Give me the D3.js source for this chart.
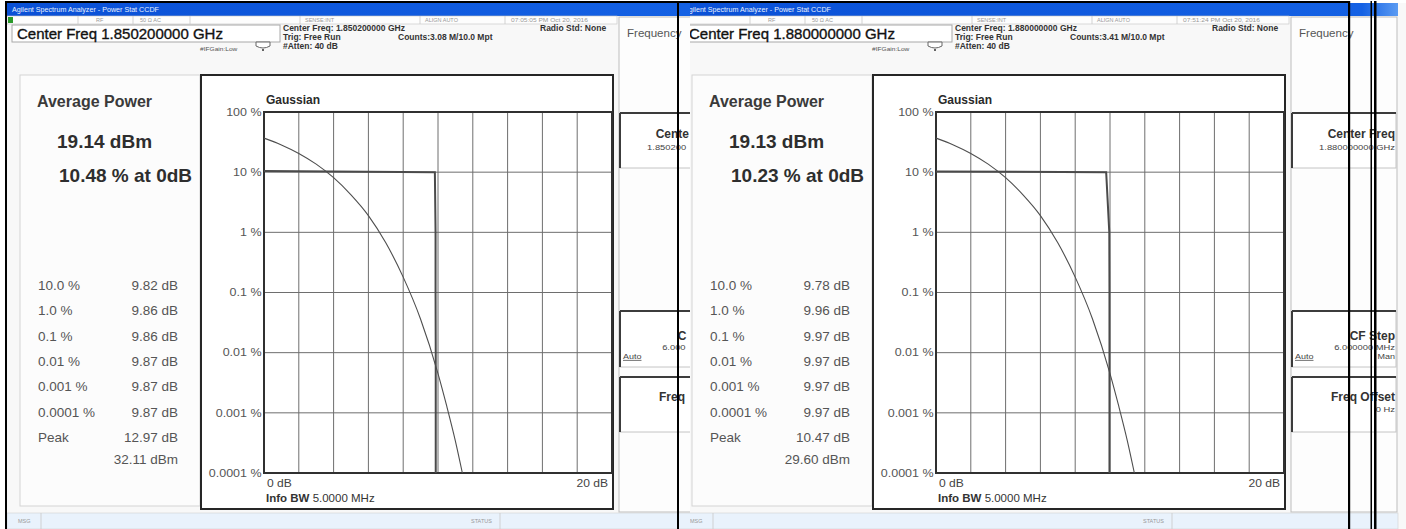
<!DOCTYPE html>
<html>
<head>
<meta charset="utf-8">
<script src="https://cdn.jsdelivr.net/npm/d3@7"></script>
<style>
  body { margin: 0; background: #ffffff; }
  text { font-family: "Liberation Sans", Arial, sans-serif; }
</style>
</head>
<body>
<div id="chart"></div>
<script>
var centerFreqs = ["1.850200000 GHz", "1.880000000 GHz"];
var avgPower = ["19.14 dBm", "19.13 dBm"];
var pctAt0dB = [10.48, 10.23];
var ccdfLevels = [10, 1, 0.1, 0.01, 0.001, 0.0001];
var ccdfLabels = ["10.0 %", "1.0 %", "0.1 %", "0.01 %", "0.001 %", "0.0001 %"];
var ccdfDbLeft = [9.82, 9.86, 9.86, 9.87, 9.87, 9.87];
var ccdfDbRight = [9.78, 9.96, 9.97, 9.97, 9.97, 9.97];
var peakDb = ["12.97 dB", "10.47 dB"];
var peakDbm = ["32.11 dBm", "29.60 dBm"];
var counts = ["3.08 M/10.0 Mpt", "3.41 M/10.0 Mpt"];
var timestamps = ["07:05:05 PM Oct 20, 2016", "07:51:24 PM Oct 20, 2016"];

// axes
var yTicks = [100, 10, 1, 0.1, 0.01, 0.001, 0.0001];
var xTicks = [0, 2, 4, 6, 8, 10, 12, 14, 16, 18, 20];

// gaussian reference trace (dB , %)
var gaussDb = [0, 1, 2, 3, 4, 5, 6, 7, 8, 9, 10, 10.5, 11, 11.4];
var gaussPct = [36.8, 28.4, 20.5, 13.6, 8.1, 4.2, 1.9, 0.67, 0.18, 0.036, 0.0045, 0.0013, 0.00034, 0.0001];

var W = 1406, H = 529, shift = 672, seam = 690;

var svg = d3.select("#chart").append("svg")
  .attr("width", W).attr("height", H);

var defs = svg.append("defs");
var grad = defs.append("linearGradient").attr("id", "bluebar")
  .attr("x1", 0).attr("x2", 1).attr("y1", 0).attr("y2", 0);
grad.append("stop").attr("offset", "0%").attr("stop-color", "#0a50d6");
grad.append("stop").attr("offset", "95%").attr("stop-color", "#1461e4");
grad.append("stop").attr("offset", "100%").attr("stop-color", "#5b9bf2");
defs.append("clipPath").attr("id", "clipLeft")
  .append("rect").attr("x", 0).attr("y", 0).attr("width", seam).attr("height", H);
defs.append("clipPath").attr("id", "clipRight")
  .append("rect").attr("x", seam).attr("y", 0).attr("width", W - seam).attr("height", H);

// right edge (in screen coords) beyond which the current screen is hidden
var cutX = Infinity;

// small helpers
function txt(g, x, y, s, o) {
  o = o || {};
  var sx = o.sx || 1;
  var t = g.append("text")
    .attr("transform", "translate(" + x + "," + y + ") scale(" + sx + ",1)")
    .attr("font-size", (o.size || 10) + "px")
    .attr("font-weight", o.bold ? "bold" : "normal")
    .attr("text-anchor", o.anchor || "start")
    .attr("fill", o.fill || "#333")
    .text(s);
  if (o.underline) t.attr("text-decoration", "underline");
  // text running under the other screenshot: keep only the part that shows
  var bb = t.node().getBBox();
  var left = x + bb.x * sx, right = left + bb.width * sx;
  if (right > cutX) {
    if (left >= cutX) { t.remove(); return t; }
    t.attr("text-anchor", "start").attr("transform", "translate(" + left + "," + y + ") scale(" + sx + ",1)");
    var str = s;
    while (str.length > 1 && left + t.node().getComputedTextLength() * sx > cutX) {
      str = str.slice(0, -1);
      t.text(str);
    }
  }
  return t;
}
function ln(g, x1, y1, x2, y2, c, w) {
  return g.append("line").attr("x1", x1).attr("y1", y1).attr("x2", x2).attr("y2", y2)
    .attr("stroke", c).attr("stroke-width", w || 1);
}

function drawScreen(i, dx, ccdfDb, clip, cut) {
  cutX = cut;
  var outer = svg.append("g").attr("clip-path", "url(#" + clip + ")");
  var g = outer.append("g").attr("transform", "translate(" + dx + ",0)");

  // window body + title bar
  g.append("rect").attr("x", 7).attr("y", 3).attr("width", 727).attr("height", 526).attr("fill", "#f8f8f8");
  g.append("rect").attr("x", 7).attr("y", 3).attr("width", 719).attr("height", 13).attr("fill", "url(#bluebar)");
  txt(g, 12, 12, "Agilent Spectrum Analyzer - Power Stat CCDF", {size: 6.5, fill: "#e8f0ff", sx: 1.1});

  // status row
  g.append("rect").attr("x", 7).attr("y", 16).attr("width", 610).attr("height", 8)
    .attr("fill", "#fdfdfd").attr("stroke", "#c4c4c4").attr("stroke-width", 0.6);
  g.append("rect").attr("x", 8).attr("y", 17).attr("width", 5).attr("height", 6).attr("fill", "#2a9a2a");
  [78, 133, 190, 300, 420, 505].forEach(function (sx) { ln(g, sx, 16, sx, 24, "#c8c8c8", 0.8); });
  txt(g, 96, 22, "RF", {size: 5.5, fill: "#999"});
  txt(g, 140, 22, "50 \u03A9  AC", {size: 5.5, fill: "#999"});
  txt(g, 305, 22, "SENSE:INT", {size: 5.5, fill: "#999"});
  txt(g, 425, 22, "ALIGN AUTO", {size: 5.5, fill: "#999"});
  txt(g, 511, 22, timestamps[i], {size: 5.5, fill: "#999", sx: 1.2});

  // active function box
  g.append("rect").attr("x", 12).attr("y", 25).attr("width", 268).attr("height", 17)
    .attr("fill", "#ffffff").attr("stroke", "#a8a8a8");
  txt(g, 17, 39, "Center Freq " + centerFreqs[i], {size: 15, fill: "#111"})
    .attr("stroke", "#111").attr("stroke-width", 0.35);
  g.append("path").attr("d", "M256,42 h14 v4 q-7,4 -14,0 z").attr("fill", "#fff").attr("stroke", "#666");
  g.append("circle").attr("cx", 263).attr("cy", 50).attr("r", 1).attr("fill", "#333");
  txt(g, 200, 51, "#IFGain:Low", {size: 5.5, fill: "#555", sx: 1.2});

  // measurement setup block
  txt(g, 283, 31, "Center Freq: " + centerFreqs[i], {size: 8.5, bold: true, fill: "#333"});
  txt(g, 283, 40, "Trig: Free Run", {size: 8.5, bold: true, fill: "#333"});
  txt(g, 283, 49, "#Atten: 40 dB", {size: 8.5, bold: true, fill: "#333"});
  txt(g, 398, 40, "Counts:" + counts[i], {size: 8.5, bold: true, fill: "#333"});
  txt(g, 540, 31, "Radio Std: None", {size: 8.5, bold: true, fill: "#333"});

  // results panel
  g.append("rect").attr("x", 20).attr("y", 75).attr("width", 180).attr("height", 431)
    .attr("fill", "#fcfcfc").attr("stroke", "#d4d4d4");
  txt(g, 37, 107, "Average Power", {size: 16, bold: true, fill: "#3a3a3a"});
  txt(g, 57, 148, avgPower[i], {size: 19, bold: true, fill: "#2e2e2e"});
  txt(g, 59, 182, pctAt0dB[i].toFixed(2) + " % at 0dB", {size: 19, bold: true, fill: "#2e2e2e"});
  ccdfLabels.forEach(function (lab, k) {
    var by = 290 + k * 25.3;
    txt(g, 38, by, lab, {size: 13.5, fill: "#555"});
    txt(g, 178, by, ccdfDb[k].toFixed(2) + " dB", {size: 13.5, fill: "#555", anchor: "end"});
  });
  txt(g, 38, 442, "Peak", {size: 13.5, fill: "#555"});
  txt(g, 178, 442, peakDb[i], {size: 13.5, fill: "#555", anchor: "end"});
  txt(g, 178, 464, peakDbm[i], {size: 13.5, fill: "#555", anchor: "end"});

  // plot frame
  g.append("rect").attr("x", 201).attr("y", 75).attr("width", 412).attr("height", 434)
    .attr("fill", "#ffffff").attr("stroke", "#262626").attr("stroke-width", 2);

  var x = d3.scaleLinear().domain([0, 20]).range([264, 612]);
  var y = d3.scaleLog().domain([0.0001, 100]).range([473, 112]);

  var grid = g.append("g");
  xTicks.forEach(function (d) { ln(grid, x(d), y(100), x(d), y(0.0001), "#6e6e6e", 1); });
  yTicks.forEach(function (d) { ln(grid, x(0), y(d), x(20), y(d), "#6e6e6e", 1); });
  g.append("rect").attr("x", x(0)).attr("y", y(100)).attr("width", x(20) - x(0)).attr("height", y(0.0001) - y(100))
    .attr("fill", "none").attr("stroke", "#303030").attr("stroke-width", 2);

  var yAxis = g.append("g").attr("transform", "translate(" + x(0) + ",0)")
    .call(d3.axisLeft(y).tickValues(yTicks).tickSize(0).tickPadding(2)
      .tickFormat(function (d) { return (d >= 1 ? d3.format("d")(d) : String(d)) + " %"; }));
  yAxis.select(".domain").remove();
  yAxis.selectAll("text")
    .attr("font-size", "10px").attr("fill", "#555")
    .attr("font-family", "'Liberation Sans', Arial, sans-serif")
    .attr("transform", "scale(1.25,1)");

  txt(g, 266, 104, "Gaussian", {size: 12, bold: true, fill: "#2a2a2a"});
  txt(g, x(0) + 3, 487, "0 dB", {size: 10.5, fill: "#444", sx: 1.15});
  txt(g, x(20) - 4, 487, "20 dB", {size: 10.5, fill: "#444", anchor: "end", sx: 1.15});
  var info = g.append("text").attr("x", 266).attr("y", 502).attr("font-size", "11.5px").attr("fill", "#333");
  info.append("tspan").attr("font-weight", "bold").text("Info BW");
  info.append("tspan").text(" 5.0000 MHz");

  // gaussian reference curve
  var gauss = gaussDb.map(function (d, k) { return [d, gaussPct[k]]; });
  g.append("path").datum(gauss)
    .attr("fill", "none").attr("stroke", "#4e4e4e").attr("stroke-width", 1.1)
    .attr("d", d3.line().x(function (d) { return x(d[0]); }).y(function (d) { return y(d[1]); })
      .curve(d3.curveMonotoneX));

  // measured trace
  var trace = [[0, pctAt0dB[i]]].concat(ccdfLevels.map(function (p, k) { return [ccdfDb[k], p]; }));
  g.append("path").datum(trace)
    .attr("fill", "none").attr("stroke", "#4a4a4a").attr("stroke-width", 2)
    .attr("d", d3.line().x(function (d) { return x(d[0]); }).y(function (d) { return y(d[1]); }));

  // softkey panel
  g.append("rect").attr("x", 619).attr("y", 17).attr("width", 106).attr("height", 495)
    .attr("fill", "#fdfdfd").attr("stroke", "#bdbdbd");
  txt(g, 627, 37, "Frequency", {size: 10.5, fill: "#555", sx: 1.1});
  [[113, 168], [311, 367], [377, 432]].forEach(function (b) {
    g.append("rect").attr("x", 620).attr("y", b[0]).attr("width", 104).attr("height", b[1] - b[0])
      .attr("fill", "#ffffff").attr("stroke", "#c4c4c4");
    ln(g, 620, b[0], 724, b[0], "#3c3c3c", 2);
    ln(g, 620, b[0], 620, b[1], "#3c3c3c", 2);
  });
  txt(g, 723, 138, "Center Freq", {size: 12, bold: true, fill: "#333", anchor: "end"});
  txt(g, 723, 150, centerFreqs[i], {size: 7.5, fill: "#444", anchor: "end", sx: 1.25});
  txt(g, 723, 340, "CF Step", {size: 12, bold: true, fill: "#333", anchor: "end"});
  txt(g, 723, 350, "6.000000 MHz", {size: 7.5, fill: "#444", anchor: "end", sx: 1.25});
  txt(g, 623, 359, "Auto", {size: 7.5, fill: "#444", underline: true, sx: 1.2});
  txt(g, 723, 359, "Man", {size: 7.5, fill: "#444", anchor: "end", sx: 1.2});
  txt(g, 723, 401, "Freq Offset", {size: 12, bold: true, fill: "#333", anchor: "end"});
  txt(g, 723, 412, "0 Hz", {size: 7.5, fill: "#444", anchor: "end", sx: 1.25});

  // message / status bar
  g.append("rect").attr("x", 7).attr("y", 513).attr("width", 719).attr("height", 16)
    .attr("fill", "#e9f2fc").attr("stroke", "#d0d0d0").attr("stroke-width", 0.6);
  ln(g, 41, 513, 41, 529, "#c8c8c8", 0.8);
  ln(g, 500, 513, 500, 529, "#c8c8c8", 0.8);
  txt(g, 18, 523, "MSG", {size: 5.5, fill: "#999"});
  txt(g, 471, 523, "STATUS", {size: 5.5, fill: "#999"});
}

drawScreen(0, 0, ccdfDbLeft, "clipLeft", seam);
drawScreen(1, shift, ccdfDbRight, "clipRight", Infinity);

// table borders drawn over the two screenshots
var borders = svg.append("g").attr("fill", "#000");
borders.append("rect").attr("x", 5).attr("y", 1).attr("width", 1345).attr("height", 2);
[[5, 2], [677, 2], [1348, 2.2], [1370.5, 1.5], [1374, 2.5]].forEach(function (v) {
  borders.append("rect").attr("x", v[0]).attr("y", 1).attr("width", v[1]).attr("height", H - 1);
});
</script>
</body>
</html>
